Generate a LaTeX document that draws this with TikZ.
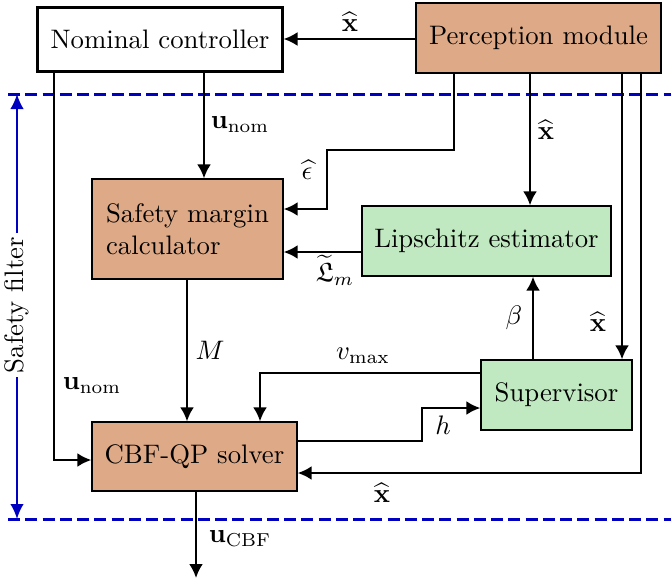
\RequirePackage{fix-cm}
\documentclass[tikz,border=0pt]{standalone}
\usepackage{amsmath,amssymb}
\usetikzlibrary{arrows.meta}
\definecolor{tan}{HTML}{DEA987}
\definecolor{lgreen}{HTML}{C1E9C1}
\definecolor{fblue}{HTML}{0000C0}
\begin{document}
\begin{tikzpicture}[x=0.4pt,y=-0.4pt,
  font=\fontsize{10.7pt}{12.8pt}\selectfont,
  blk/.style={draw,line width=0.5pt,inner sep=0pt,align=center},
  tanblk/.style={blk,fill=tan},
  grnblk/.style={blk,fill=lgreen},
  arr/.style={line width=1pt,-{Latex[length=5.6pt,width=5.6pt]}},
  bnd/.style={fblue,line width=1.2pt,dash pattern=on 4.8pt off 2.1pt},
  lbl/.style={inner sep=1pt}]
\useasboundingbox (0,0) rectangle (671,587);
% dashed boundaries
\draw[bnd] (8,94) coordinate (dl1) -- (671,94) coordinate (dl2);
\draw[bnd] (8,519) coordinate (dl3) -- (671,519) coordinate (dl4);
% blocks
\node[blk,line width=1.2pt,minimum width=97.6pt,minimum height=25.6pt] (nom) at (160,39) {Nominal controller};
\node[tanblk,minimum width=98pt,minimum height=28pt] (perc) at (538.5,38) {Perception module};
\node[tanblk,minimum width=76.4pt,minimum height=40pt,align=left] (smc) at (187.5,229) {Safety margin\\calculator};
\node[grnblk,minimum width=99.6pt,minimum height=28pt] (lip) at (486.5,241) {Lipschitz estimator};
\node[grnblk,minimum width=60.4pt,minimum height=28pt] (sup) at (556.5,395) {Supervisor};
\node[tanblk,minimum width=82pt,minimum height=27.6pt] (cbf) at (194.5,456.5) {CBF-QP solver};
% connectors
\draw[arr] (perc.west |- 0,39) -- (nom.east |- 0,39);
\node[lbl] (lx1) at (350,22) {$\widehat{\mathbf{x}}$};
\draw[arr] (nom.south -| 204,0) -- (smc.north -| 204,0);
\node[lbl] (lu1) at (240,125) {$\mathbf{u}_{\mathrm{nom}}$};
\draw[arr] (perc.south -| 454,0) -- (454,150) -- (327,150) -- (327,209) -- (smc.east |- 0,209);
\node[lbl] (le) at (307,170) {$\widehat{\epsilon}$};
\draw[arr] (perc.south -| 530,0) -- (lip.north -| 530,0);
\node[lbl] (lx2) at (546,130) {$\widehat{\mathbf{x}}$};
\draw[arr] (lip.west |- 0,252) -- (smc.east |- 0,252);
\node[lbl] (lL) at (335,270) {$\widetilde{\mathfrak{L}}_m$};
\draw[arr] (perc.south -| 622,0) -- (sup.north -| 622,0);
\node[lbl] (lx3) at (598,322) {$\widehat{\mathbf{x}}$};
\draw[arr] (perc.south -| 641,0) -- (641,473) -- (cbf.east |- 0,473);
\node[lbl] (lx4) at (382,493) {$\widehat{\mathbf{x}}$};
\draw[arr] (sup.north -| 533,0) -- (lip.south -| 533,0);
\node[lbl] (lb) at (514,318) {$\beta$};
\draw[arr] (sup.west |- 0,373) -- (260,373) -- (cbf.north -| 260,0);
\node[lbl] (lv) at (363,356) {$v_{\max}$};
\draw[arr] (smc.south -| 187,0) -- (cbf.north -| 187,0);
\node[lbl] (lM) at (210,350) {$M$};
\draw[arr] (cbf.east |- 0,441) -- (422,441) -- (422,408) -- (sup.west |- 0,408);
\node[lbl] (lh) at (443,425) {$h$};
\draw[arr] (nom.south -| 54,0) -- (54,460) -- (cbf.west |- 0,460);
\node[lbl] (lu2) at (92,386) {$\mathbf{u}_{\mathrm{nom}}$};
\coordinate (out) at (196,578);
\draw[arr] (cbf.south -| 196,0) -- (out);
\node[lbl] (lu3) at (240,539) {$\mathbf{u}_{\mathrm{CBF}}$};
% safety filter
\draw[fblue,line width=0.8pt,{Latex[length=6pt,width=5.4pt]}-{Latex[length=6pt,width=5.4pt]}] (dl1 -| 17,0) -- (dl3 -| 17,0);
\node[fill=white,rotate=90,inner sep=1.5pt] (sf) at (17,305) {Safety filter};
\end{tikzpicture}
\end{document}
